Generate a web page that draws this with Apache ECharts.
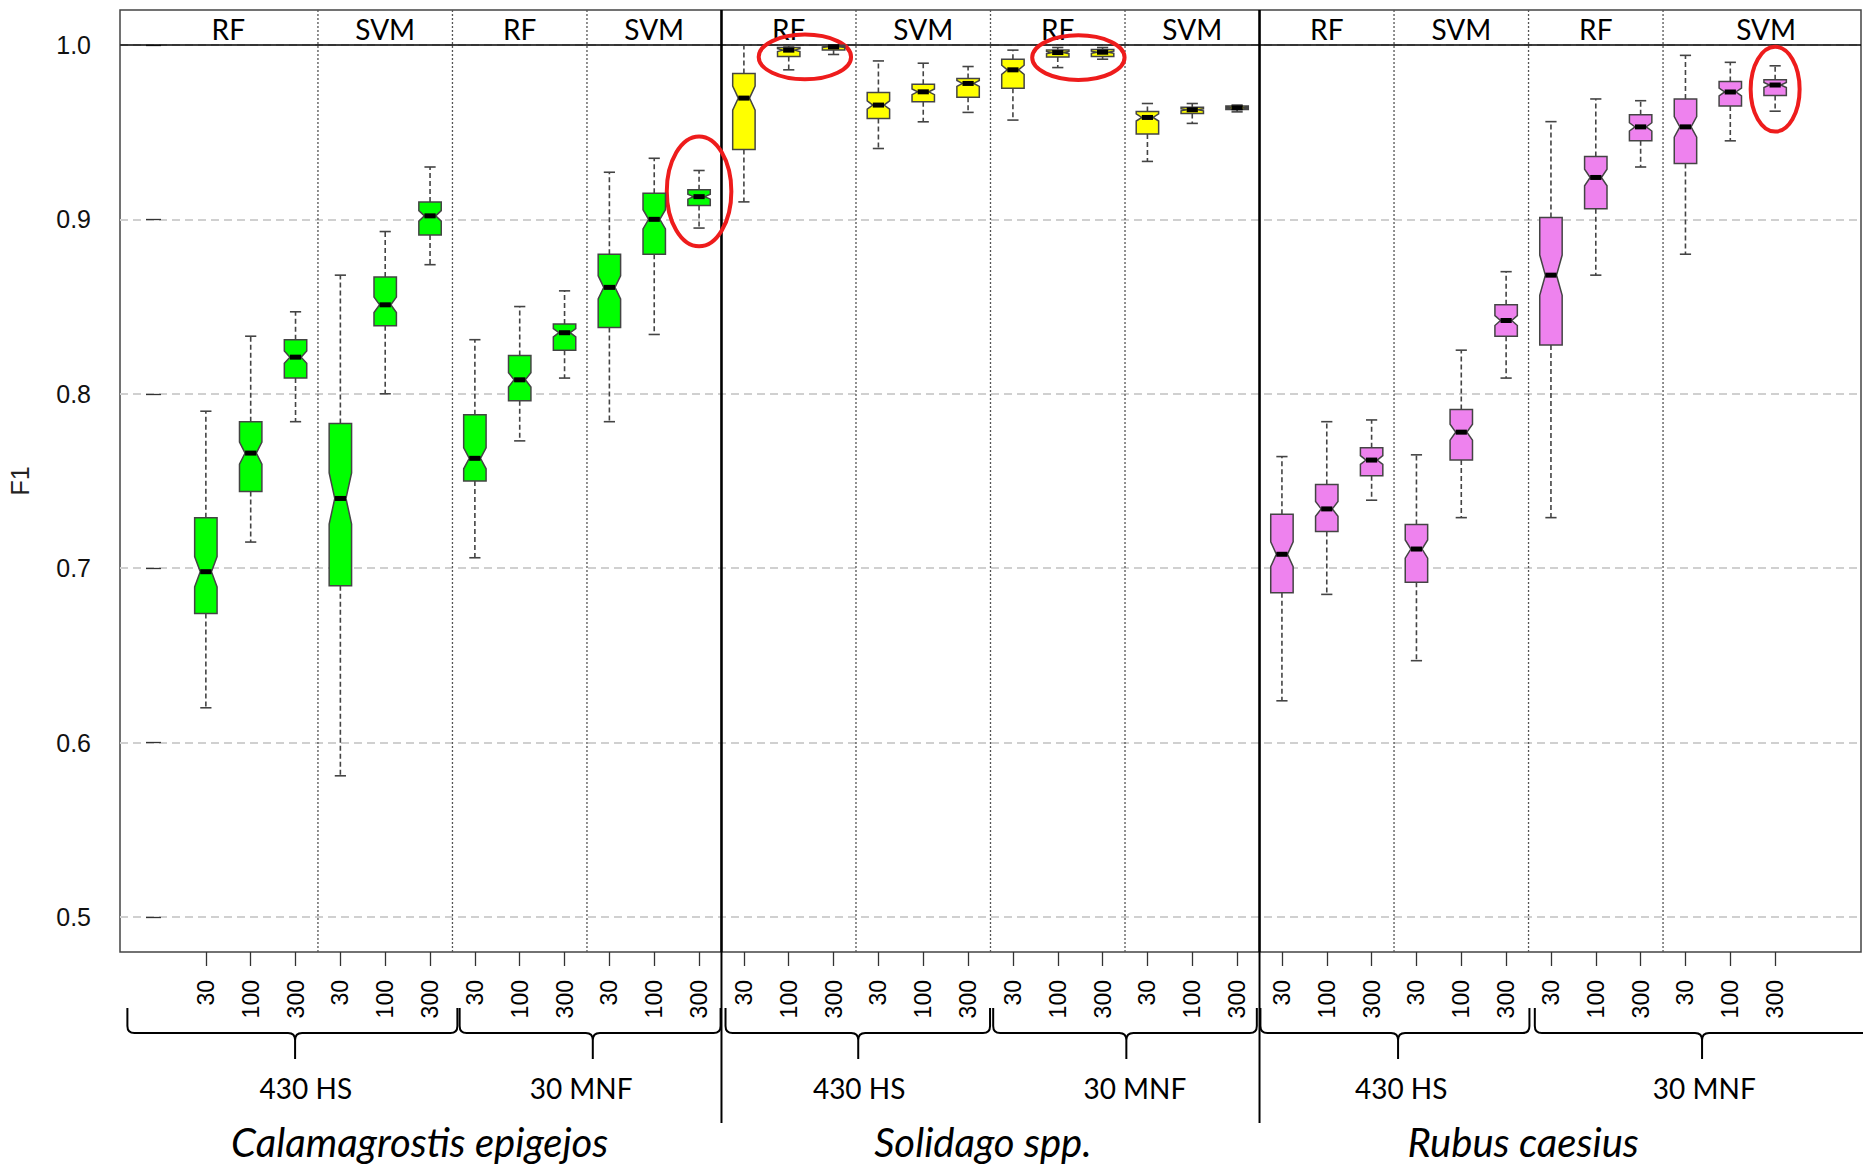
<!DOCTYPE html>
<html>
<head>
<meta charset="utf-8">
<title>F1 notched boxplots</title>
<script src="https://cdn.jsdelivr.net/npm/echarts@6/dist/echarts.min.js"></script>
<style>
    html, body { margin: 0; padding: 0; background: #fff; }
    #chart { width: 1863px; height: 1168px; }
</style>
</head>
<body>
<div id="chart"></div>
<script>
// categories
const speciesNames = ['Calamagrostis epigejos', 'Solidago spp.', 'Rubus caesius']
const featureSets = ['430 HS', '30 MNF']
const classifiers = ['RF', 'SVM']
const sampleSizes = ['30', '100', '300']
const yTicks = [0.5, 0.6, 0.7, 0.8, 0.9, 1.0]

// one row per box: [lower whisker, Q1, median, Q3, upper whisker]
// order: 430 HS RF 30/100/300, 430 HS SVM 30/100/300, 30 MNF RF ..., 30 MNF SVM ...
const calamagrostis = [
    [0.620, 0.674, 0.698, 0.729, 0.790],
    [0.715, 0.744, 0.766, 0.784, 0.833],
    [0.784, 0.809, 0.821, 0.831, 0.847],
    [0.581, 0.690, 0.740, 0.783, 0.868],
    [0.800, 0.839, 0.851, 0.867, 0.893],
    [0.874, 0.891, 0.902, 0.910, 0.930],
    [0.706, 0.750, 0.763, 0.788, 0.831],
    [0.773, 0.796, 0.808, 0.822, 0.850],
    [0.809, 0.825, 0.835, 0.840, 0.859],
    [0.784, 0.838, 0.861, 0.880, 0.927],
    [0.834, 0.880, 0.900, 0.915, 0.935],
    [0.895, 0.908, 0.913, 0.917, 0.928]
]
const solidago = [
    [0.910, 0.940, 0.9695, 0.9836, 1.000],
    [0.9857, 0.9933, 0.997, 0.9985, 0.9994],
    [0.9945, 0.997, 0.9989, 0.9998, 1.000],
    [0.9406, 0.9578, 0.9655, 0.9727, 0.9908],
    [0.9559, 0.9674, 0.9731, 0.9775, 0.9895],
    [0.9613, 0.970, 0.9779, 0.9807, 0.9876],
    [0.9569, 0.9752, 0.9857, 0.9918, 0.997],
    [0.987, 0.993, 0.9956, 0.9971, 0.9985],
    [0.9918, 0.9933, 0.9958, 0.9973, 0.9985],
    [0.9332, 0.9489, 0.9584, 0.9618, 0.9664],
    [0.955, 0.9607, 0.9628, 0.9643, 0.9664],
    [0.9616, 0.963, 0.9639, 0.965, 0.9655]
]
const rubus = [
    [0.624, 0.686, 0.708, 0.731, 0.764],
    [0.685, 0.721, 0.734, 0.748, 0.784],
    [0.739, 0.753, 0.762, 0.769, 0.785],
    [0.647, 0.692, 0.711, 0.725, 0.765],
    [0.729, 0.762, 0.778, 0.791, 0.825],
    [0.809, 0.833, 0.842, 0.851, 0.870],
    [0.729, 0.828, 0.868, 0.901, 0.956],
    [0.868, 0.906, 0.924, 0.936, 0.969],
    [0.930, 0.945, 0.953, 0.960, 0.968],
    [0.880, 0.932, 0.953, 0.969, 0.994],
    [0.945, 0.965, 0.973, 0.979, 0.990],
    [0.962, 0.971, 0.977, 0.980, 0.988]
]

// layout (axis units)
const X_MIN = -0.915
const X_MAX = 37.915
const Y_MIN = 0.48
const Y_MAX = 1.02
const BOX_WIDTH = 0.5
const RUNS = 100 // repetitions per box, used for the notch size like R does
const speciesColors = ['#00ff00', '#ffff00', '#ee82ee']
const headerLabelX = [1.5, 5, 8, 11, 14, 17, 20, 23, 26, 29, 32, 35.8]
// braces under the axis: [start, end, tip]
const braceSpans = [
    [-0.75, 6.61, 2.99], [6.66, 12.48, 9.63],
    [12.59, 18.49, 15.55], [18.56, 24.44, 21.53],
    [24.52, 30.52, 27.59], [30.64, 38.3, 34.37]
]
const featureLabelX = [3.23, 9.37, 15.57, 21.72, 27.66, 34.42]
const speciesLabelX = [5.77, 18.33, 30.38]
// red marks: [x, y, radius x, radius y]
const highlights = [
    [12, 0.916, 0.72, 0.0315],
    [14.36, 0.9931, 1.03, 0.0128],
    [20.46, 0.9927, 1.03, 0.0128],
    [36, 0.9746, 0.546, 0.0243]
]

// flatten boxes: [x, low, q1, median, q3, high, species]
const boxData = []
;[calamagrostis, solidago, rubus].forEach((boxes, s) => {
    boxes.forEach((b, i) => {
        boxData.push([s * boxes.length + i + 1, b[0], b[1], b[2], b[3], b[4], s])
    })
})
const boxPositions = boxData.map(d => d[0])

function renderBox (params, api) {
    const x = api.value(0)
    const med = api.value(3)
    const q1 = api.value(2)
    const q3 = api.value(4)
    const y = v => api.coord([x, v])[1]
    const cx = api.coord([x, med])[0]
    const half = api.size([BOX_WIDTH, 0])[0] / 2
    const inner = half * 0.5
    const notch = 1.58 * (q3 - q1) / Math.sqrt(RUNS)
    const yq1 = y(q1)
    const yq3 = y(q3)
    const ym = y(med)
    const ynLo = y(med - notch)
    const ynHi = y(med + notch)
    const yLo = y(api.value(1))
    const yHi = y(api.value(5))
    const whisker = { stroke: '#444', lineWidth: 1.6, lineDash: [5, 3] }
    const staple = { stroke: '#444', lineWidth: 1.6 }
    return {
        type: 'group',
        children: [
            { type: 'line', shape: { x1: cx, y1: yq3, x2: cx, y2: yHi }, style: whisker },
            { type: 'line', shape: { x1: cx, y1: yq1, x2: cx, y2: yLo }, style: whisker },
            { type: 'line', shape: { x1: cx - inner, y1: yHi, x2: cx + inner, y2: yHi }, style: staple },
            { type: 'line', shape: { x1: cx - inner, y1: yLo, x2: cx + inner, y2: yLo }, style: staple },
            {
                type: 'polygon',
                shape: {
                    points: [
                        [cx - half, yq1], [cx - half, ynLo], [cx - inner, ym], [cx - half, ynHi], [cx - half, yq3],
                        [cx + half, yq3], [cx + half, ynHi], [cx + inner, ym], [cx + half, ynLo], [cx + half, yq1]
                    ]
                },
                style: { fill: speciesColors[api.value(6)], stroke: '#444', lineWidth: 1.5 }
            },
            { type: 'line', shape: { x1: cx - inner, y1: ym, x2: cx + inner, y2: ym }, style: { stroke: '#000', lineWidth: 5 } }
        ]
    }
}

function bracePath (x0, x1, xt, top, mid, tip) {
    const r = 7
    return [
        'M', x0, top, 'L', x0, mid - r, 'Q', x0, mid, x0 + r, mid,
        'L', xt - r, mid, 'Q', xt, mid, xt, mid + r, 'L', xt, tip,
        'M', x1, top, 'L', x1, mid - r, 'Q', x1, mid, x1 - r, mid,
        'L', xt + r, mid, 'Q', xt, mid, xt, mid + r
    ].join(' ')
}

function renderAnnotations (params, api) {
    const px = v => api.coord([v, Y_MIN])[0]
    const yTop = api.coord([X_MIN, Y_MAX])[1]
    const yBase = api.coord([X_MIN, Y_MIN])[1]
    const yOne = api.coord([X_MIN, 1.0])[1]
    const children = []
    const perGroup = sampleSizes.length
    const groupCount = speciesNames.length * featureSets.length * classifiers.length
    const perSpecies = featureSets.length * classifiers.length

    // header line at 1.0
    children.push({ type: 'line', shape: { x1: px(X_MIN), y1: yOne, x2: px(X_MAX), y2: yOne }, style: { stroke: '#000', lineWidth: 1.5 } })

    // group dividers
    for (let i = 1; i < groupCount; i++) {
        const x = px(perGroup * i + 0.5)
        if (i % perSpecies === 0) {
            children.push({ type: 'line', shape: { x1: x, y1: yTop, x2: x, y2: yBase }, style: { stroke: '#000', lineWidth: 2.6 } })
            children.push({ type: 'line', shape: { x1: x, y1: yBase, x2: x, y2: yBase + 171 }, style: { stroke: '#000', lineWidth: 2 } })
        } else {
            children.push({ type: 'line', shape: { x1: x, y1: yTop, x2: x, y2: yBase }, style: { stroke: '#555', lineWidth: 1.3, lineDash: [2, 2] } })
        }
    }

    // RF / SVM headers
    headerLabelX.forEach((hx, k) => {
        children.push({
            type: 'text',
            x: px(hx),
            y: (yTop + yOne) / 2 + 2,
            style: { text: classifiers[k % 2], fontFamily: 'Lato', fontSize: 28, fill: '#000', align: 'center', verticalAlign: 'middle' }
        })
    })

    // braces and feature-set labels
    braceSpans.forEach((b, i) => {
        children.push({
            type: 'path',
            shape: { pathData: bracePath(px(b[0]), px(b[1]), px(b[2]), yBase + 56, yBase + 81, yBase + 107) },
            style: { stroke: '#000', fill: null, lineWidth: 2 }
        })
        children.push({
            type: 'text',
            x: px(featureLabelX[i]),
            y: yBase + 136,
            style: { text: featureSets[i % 2], fontFamily: 'Lato', fontSize: 28, fill: '#000', align: 'center', verticalAlign: 'middle' }
        })
    })

    // species names
    speciesNames.forEach((name, i) => {
        children.push({
            type: 'text',
            x: px(speciesLabelX[i]),
            y: yBase + 190,
            style: { text: name, fontFamily: 'Lato', fontStyle: 'italic', fontSize: 40, fill: '#000', align: 'center', verticalAlign: 'middle' }
        })
    })

    // red highlight ellipses
    highlights.forEach(h => {
        const c = api.coord([h[0], h[1]])
        const r = api.size([h[2], h[3]])
        children.push({
            type: 'ellipse',
            shape: { cx: c[0], cy: c[1], rx: r[0], ry: r[1] },
            style: { stroke: '#ee1c1c', fill: null, lineWidth: 4 }
        })
    })

    return { type: 'group', children: children }
}

const chart = echarts.init(document.getElementById('chart'), null, { renderer: 'svg' })
const option = {
    animation: false,
    backgroundColor: '#fff',
    grid: {
        left: 120,
        right: 2,
        top: 10,
        bottom: 216,
        show: true,
        borderColor: '#444',
        borderWidth: 1.5,
        outerBoundsMode: 'none'
    },
    xAxis: {
        type: 'value',
        min: X_MIN,
        max: X_MAX,
        axisLine: { show: false },
        splitLine: { show: false },
        axisTick: {
            customValues: boxPositions,
            length: 14,
            lineStyle: { color: '#333', width: 1.3 }
        },
        axisLabel: {
            customValues: boxPositions,
            rotate: 90,
            margin: 28,
            fontFamily: 'Liberation Sans',
            fontSize: 23,
            color: '#000',
            formatter: v => sampleSizes[(Math.round(v) - 1) % sampleSizes.length]
        }
    },
    yAxis: {
        type: 'value',
        min: Y_MIN,
        max: Y_MAX,
        name: 'F1',
        nameLocation: 'middle',
        nameRotate: 90,
        nameGap: 88,
        nameTextStyle: { fontFamily: 'Liberation Sans', fontSize: 25, color: '#222' },
        axisLine: { show: false },
        axisTick: {
            customValues: yTicks,
            length: 15,
            lineStyle: { color: '#333', width: 1.3 }
        },
        axisLabel: {
            customValues: yTicks,
            margin: 29,
            fontFamily: 'Liberation Sans',
            fontSize: 25,
            color: '#111',
            formatter: v => v.toFixed(1)
        },
        splitLine: {
            show: true,
            lineStyle: { color: '#d0d0d0', width: 2, type: [8, 5] }
        }
    },
    series: [
        {
            type: 'custom',
            name: 'annotations',
            clip: false,
            silent: true,
            data: [[0, 0]],
            renderItem: renderAnnotations,
            z: 1
        },
        {
            type: 'custom',
            name: 'F1',
            clip: false,
            data: boxData,
            encode: { x: 0, y: [1, 2, 3, 4, 5] },
            renderItem: renderBox,
            z: 2
        }
    ]
}
option && chart.setOption(option)
</script>
</body>
</html>
